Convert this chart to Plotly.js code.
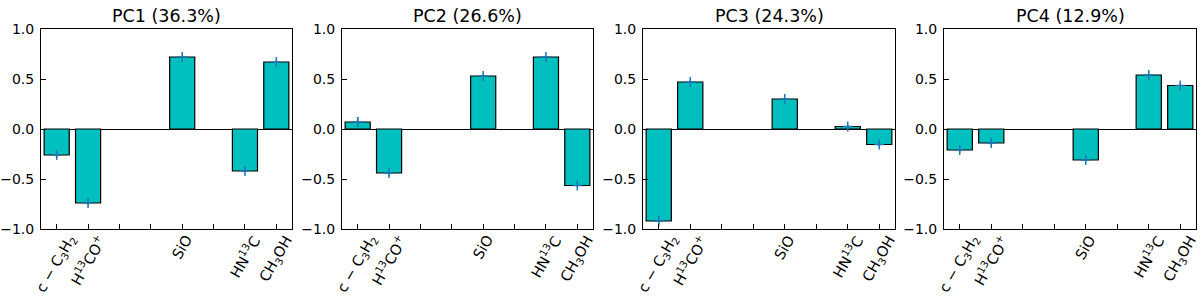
<!DOCTYPE html>
<html>
<head>
<meta charset="utf-8">
<script src="https://cdn.plot.ly/plotly-3.0.1.min.js"></script>
<style>
  html, body { margin: 0; padding: 0; background: #fff; }
  #chart { width: 1200px; height: 297px; }
</style>
</head>
<body>
<div id="chart"></div>
<script>
// ---- data ----
const categories = ['c − C<sub>3</sub>H<sub>2</sub>', 'H<sup>13</sup>CO<sup>+</sup>', 'SiO', 'HN<sup>13</sup>C', 'CH<sub>3</sub>OH'];
const catPos = [0, 1, 4, 6, 7];
const tickSlots = [0, 1, 2, 3, 4, 5, 6, 7];
const panelTitles = ['PC1 (36.3%)', 'PC2 (26.6%)', 'PC3 (24.3%)', 'PC4 (12.9%)'];
const pc1 = [-0.26, -0.74, 0.72, -0.42, 0.67];
const pc2 = [0.07, -0.44, 0.53, 0.72, -0.565];
const pc3 = [-0.92, 0.47, 0.30, 0.025, -0.155];
const pc4 = [-0.21, -0.14, -0.31, 0.54, 0.435];
const pc1Err = [0.03, 0.02, 0.015, 0.015, 0.015];
const pc2Err = [0.05, 0.025, 0.015, 0.015, 0.015];
const pc3Err = [0.025, 0.015, 0.015, 0.015, 0.015];
const pc4Err = [0.025, 0.025, 0.015, 0.015, 0.015];
const yTicks = [-1, -0.5, 0, 0.5, 1];

const series = [pc1, pc2, pc3, pc4];
const errs = [pc1Err, pc2Err, pc3Err, pc4Err];

// ---- layout geometry ----
const W = 1200, H = 297;
const xDomPx = [[41, 292], [342, 593], [643, 895], [944, 1196]];
const yDom = [(H - 229) / H, (H - 29) / H];
const FONT = 'DejaVu Sans, sans-serif';

const traces = [];
const layout = {
  width: W, height: H,
  margin: {l: 0, r: 0, t: 0, b: 0},
  paper_bgcolor: '#fff', plot_bgcolor: '#fff',
  showlegend: false,
  font: {family: FONT, size: 14, color: '#000'},
  annotations: []
};

series.forEach((vals, i) => {
  const sfx = i === 0 ? '' : String(i + 1);
  const xa = 'x' + sfx, ya = 'y' + sfx;
  traces.push({
    type: 'bar', x: catPos, y: vals, width: 0.8,
    xaxis: xa, yaxis: ya,
    marker: {color: '#00bfbf', line: {color: '#000', width: 1.2}},
    hoverinfo: 'skip'
  });
  traces.push({
    type: 'scatter', mode: 'markers', x: catPos, y: vals,
    xaxis: xa, yaxis: ya,
    marker: {symbol: 'cross-thin', size: 7, color: '#1f77b4', line: {color: '#1f77b4', width: 1.5}},
    error_y: {type: 'data', array: errs[i], color: '#1f77b4', thickness: 1.5, width: 0},
    hoverinfo: 'skip'
  });
  const dom = [xDomPx[i][0] / W, xDomPx[i][1] / W];
  layout['xaxis' + sfx] = {
    domain: dom, anchor: ya, range: [-0.5, 7.5],
    tickvals: tickSlots, showticklabels: false,
    ticks: 'inside', ticklen: 5, tickcolor: '#000', tickwidth: 1,
    showline: true, mirror: true, linecolor: '#000', linewidth: 1,
    showgrid: false, zeroline: false, fixedrange: true
  };
  layout['yaxis' + sfx] = {
    domain: yDom, anchor: xa, range: [-1, 1],
    tickvals: yTicks, tickformat: '.1f',
    ticks: 'inside', ticklen: 5, tickcolor: '#000', tickwidth: 1,
    tickfont: {family: FONT, size: 14, color: '#000'},
    ticklabelstandoff: 3,
    showline: true, mirror: true, linecolor: '#000', linewidth: 1,
    showgrid: false, zeroline: true, zerolinecolor: '#000', zerolinewidth: 1,
    fixedrange: true
  };
  layout.annotations.push({
    xref: 'paper', yref: 'paper', x: (dom[0] + dom[1]) / 2, y: yDom[1],
    xanchor: 'center', yanchor: 'bottom', yshift: 1,
    text: panelTitles[i], showarrow: false,
    font: {family: FONT, size: 17.5, color: '#000'}
  });
  categories.forEach((c, j) => {
    layout.annotations.push({
      xref: xa, yref: 'paper', x: catPos[j], y: yDom[0],
      xanchor: 'center', yanchor: 'top', yshift: -2,
      textangle: -60, text: c, showarrow: false, borderpad: 0,
      font: {family: FONT, size: 14.5, color: '#000'}
    });
  });
});

Plotly.newPlot('chart', traces, layout, {staticPlot: true, displayModeBar: false});
</script>
</body>
</html>
